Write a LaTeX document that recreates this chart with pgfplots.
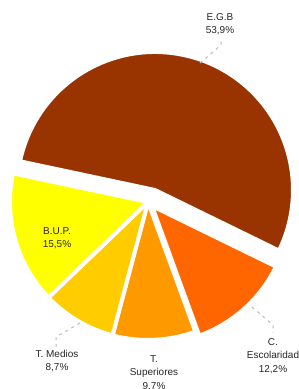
\documentclass[border=0pt]{standalone}
\usepackage{pgfplots}
\pgfplotsset{compat=1.18}
\usepackage{fontspec}
\setmainfont{Liberation Sans}
\definecolor{cEGB}{HTML}{993300}
\definecolor{cCE}{HTML}{FF6600}
\definecolor{cTS}{HTML}{FF9900}
\definecolor{cTM}{HTML}{FFCC00}
\definecolor{cBUP}{HTML}{FFFF00}
\definecolor{lead}{HTML}{BBBBBB}
% data (percent)
\def\vEGB{53.9}
\def\vCE{12.2}
\def\vTS{9.7}
\def\vTM{8.7}
\def\vBUP{15.5}
\begin{document}
\begin{tikzpicture}
\pgfmathsetmacro{\aA}{168}
\pgfmathsetmacro{\aB}{\aA-3.6*\vEGB}
\pgfmathsetmacro{\aC}{\aB-3.6*\vCE}
\pgfmathsetmacro{\aD}{\aC-3.6*\vTS}
\pgfmathsetmacro{\aE}{\aD-3.6*\vTM}
\pgfmathsetmacro{\aF}{\aE-3.6*\vBUP}
\begin{axis}[x=1pt,y=1pt,xmin=0,xmax=299,ymin=0,ymax=389,hide axis,clip=false]
\def\R{138pt}
\filldraw[fill=cEGB,draw=white,line width=4pt] (axis cs:155,199) -- ++(\aA:\R) arc[start angle=\aA,end angle=\aB,radius=\R] -- cycle;
\filldraw[fill=cCE,draw=white,line width=4pt] (axis cs:152,183) -- ++(\aB:\R) arc[start angle=\aB,end angle=\aC,radius=\R] -- cycle;
\filldraw[fill=cTS,draw=white,line width=4pt] (axis cs:148,187) -- ++(\aC:\R) arc[start angle=\aC,end angle=\aD,radius=\R] -- cycle;
\filldraw[fill=cTM,draw=white,line width=4pt] (axis cs:148,187) -- ++(\aD:\R) arc[start angle=\aD,end angle=\aE,radius=\R] -- cycle;
\filldraw[fill=cBUP,draw=white,line width=4pt] (axis cs:148,187) -- ++(\aE:\R) arc[start angle=\aE,end angle=\aF,radius=\R] -- cycle;
% leader lines
\draw[lead,line width=1pt,dash pattern=on 3pt off 4pt] (axis cs:200,326) -- (axis cs:221,344) -- (axis cs:221,349);
\draw[lead,line width=1pt,dash pattern=on 3pt off 4pt] (axis cs:80,66) -- (axis cs:56,52) -- (axis cs:56,42);
\draw[lead,line width=1pt,dash pattern=on 3pt off 4pt] (axis cs:252,82) -- (axis cs:273,64) -- (axis cs:273,56);
% labels
\tikzset{lab/.style={align=center,inner sep=0pt,text=black!85,font=\fontsize{10}{13.5}\selectfont}}
\node[lab] at (axis cs:220,365) {E.G.B\\53,9\%};
\node[lab,font=\fontsize{10}{12.5}\selectfont] at (axis cs:57,151) {B.U.P.\\15,5\%};
\node[lab] at (axis cs:57,28) {T. Medios\\8,7\%};
\node[lab] at (axis cs:154,16) {T.\\Superiores\\9,7\%};
\node[lab] at (axis cs:273,33) {C.\\Escolaridad\\12,2\%};
\end{axis}
\pgfresetboundingbox
\useasboundingbox (0,0) rectangle (299pt,389pt);
\end{tikzpicture}
\end{document}
